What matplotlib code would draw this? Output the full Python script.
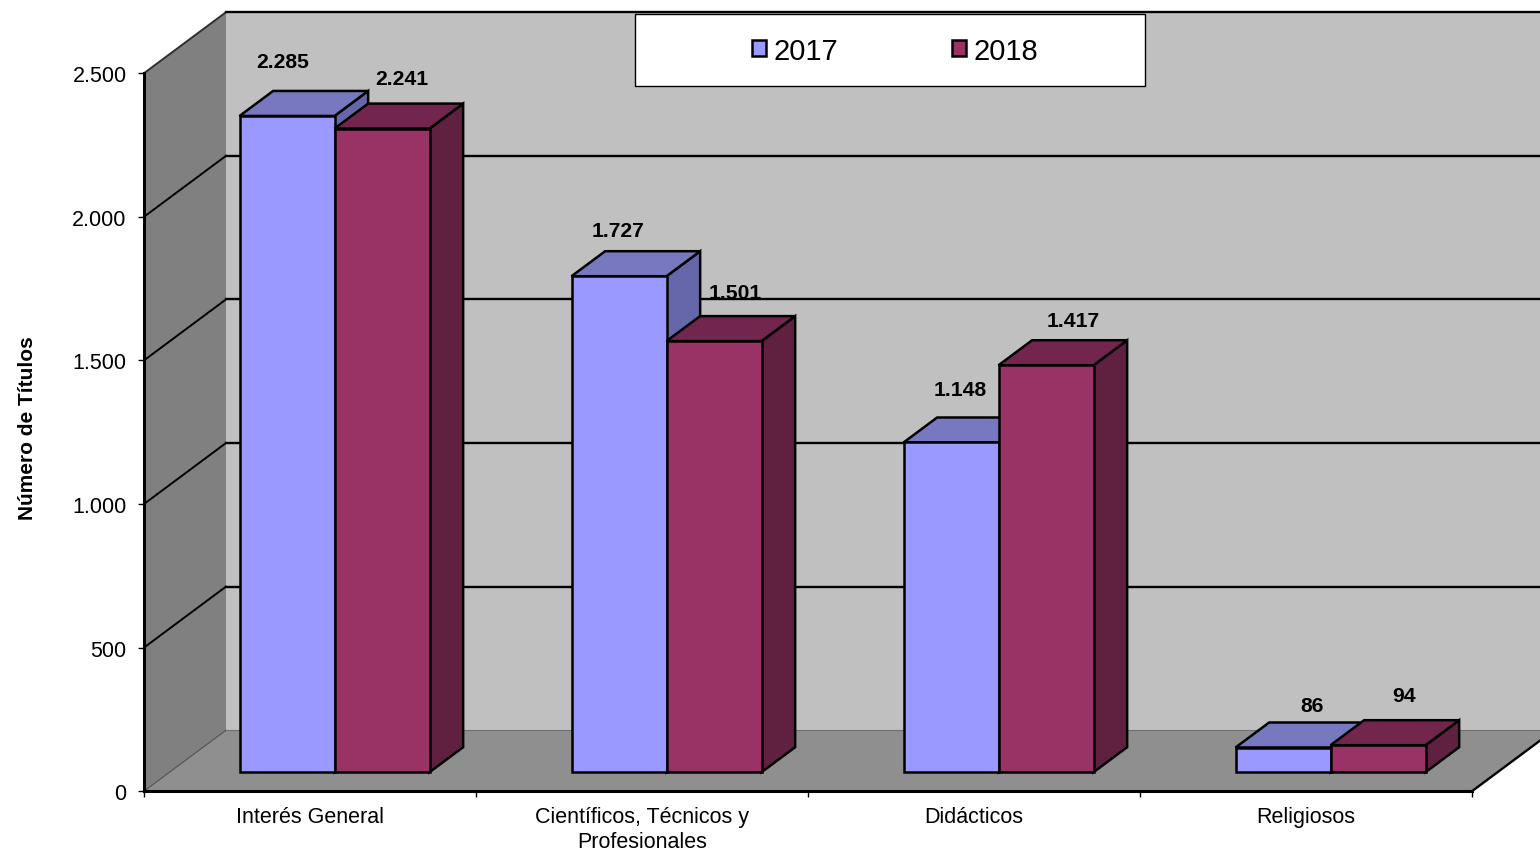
#!/usr/bin/env python3
# oblique "3D" column chart, drawn on normal 2D axes
import matplotlib
matplotlib.use("Agg")
import matplotlib.pyplot as plt
from matplotlib.patches import Polygon, Patch, Rectangle

plt.rcParams['font.family'] = ['Liberation Sans', 'DejaVu Sans']

#data
categories = ["Interés General", "Científicos, Técnicos y\nProfesionales", "Didácticos", "Religiosos"]
years = ["2017", "2018"]
values_2017 = [2285, 1727, 1148, 86]
values_2018 = [2241, 1501, 1417, 94]
value_ticks = [0, 500, 1000, 1500, 2000, 2500]
value_tick_labels = ["0", "500", "1.000", "1.500", "2.000", "2.500"]

#label shifts from the top centre of each bar, in pixels (x, y up)
shift_2017 = [(-4, 54), (-1, 46), (9, 53), (29, 42)]
shift_2018 = [(20, 50), (21, 49), (27, 45), (26, 50)]

#colours: front, top, side
colors_2017 = ("#9999FF", "#7878C0", "#6666AA")
colors_2018 = ("#993366", "#73264D", "#60203F")

W, H = 1540, 853
PX_X = 332.0         # pixels per category
PX_Y = 718.0 / 2500  # pixels per title

#depth of the whole chart box in data units
DX = 82 / PX_X
DY = 61 / PX_Y

BAR_W = 95 / PX_X
BAR_GAP = 70 / PX_X
BAR_D0 = 19 / 61     # where the bars start in the depth
BAR_D1 = 44 / 61     # where they end

fig = plt.figure(figsize=(W / 100, H / 100), dpi=100)
ax = fig.add_axes([144 / W, 1 - 792.2 / H, 1328 / W, 718 / H])
ax.set_xlim(0, 4)
ax.set_ylim(0, 2500)
ax.patch.set_visible(False)


def proj(x, y, d):
    return (x + d * DX, y + d * DY)


def poly(pts, fc, ec="none", lw=0, z=1):
    ax.add_patch(Polygon(pts, closed=True, facecolor=fc, edgecolor=ec, linewidth=lw,
                         joinstyle="miter", clip_on=False, zorder=z))


#walls and floor
poly([proj(0, 0, 1), proj(4, 0, 1), proj(4, 2500, 1), proj(0, 2500, 1)], "#C0C0C0")
poly([proj(0, 0, 0), proj(0, 0, 1), proj(0, 2500, 1), proj(0, 2500, 0)], "#808080")
poly([proj(0, 0, 0), proj(4, 0, 0), proj(4, 0, 1), proj(0, 0, 1)], "#8F8F8F")

#grid lines on the back and left wall
for v in value_ticks[1:]:
    a = proj(0, v, 0)
    b = proj(0, v, 1)
    c = proj(4, v, 1)
    color = "#303030" if v == 2500 else "black"
    ax.plot([a[0], b[0]], [a[1], b[1]], color=color, lw=1.4, clip_on=False, zorder=2)
    ax.plot([b[0], c[0]], [b[1], c[1]], color="black", lw=1.7, clip_on=False, zorder=2)

#thin edges of the floor
a, b, c = proj(0, 0, 0), proj(0, 0, 1), proj(4, 0, 1)
ax.plot([a[0], b[0]], [a[1], b[1]], color="#505050", lw=0.8, clip_on=False, zorder=2)
ax.plot([b[0], c[0]], [b[1], c[1]], color="#707070", lw=0.8, clip_on=False, zorder=2)
e = proj(4, 0, 0)
ax.plot([e[0], c[0]], [e[1], c[1]], color="black", lw=1.7, clip_on=False, zorder=2)

#bars
series = [(values_2017, colors_2017, shift_2017), (values_2018, colors_2018, shift_2018)]
for i in range(len(categories)):
    for j, (vals, cols, shifts) in enumerate(series):
        v = vals[i]
        x0 = i + BAR_GAP + j * BAR_W
        x1 = x0 + BAR_W
        poly([proj(x1, 0, BAR_D0), proj(x1, 0, BAR_D1), proj(x1, v, BAR_D1), proj(x1, v, BAR_D0)],
             cols[2], "black", 1.8, 3)
        poly([proj(x0, v, BAR_D0), proj(x1, v, BAR_D0), proj(x1, v, BAR_D1), proj(x0, v, BAR_D1)],
             cols[1], "black", 1.8, 3)
        poly([proj(x0, 0, BAR_D0), proj(x1, 0, BAR_D0), proj(x1, v, BAR_D0), proj(x0, v, BAR_D0)],
             cols[0], "black", 1.8, 3)
        label = f"{v:,}".replace(",", ".")
        dx, dy = shifts[i]
        ax.annotate(label, xy=proj((x0 + x1) / 2, v, BAR_D0), xytext=(dx, dy),
                    textcoords="offset pixels", ha="center", va="center",
                    fontsize=15.2, fontweight="bold", color="black",
                    annotation_clip=False, zorder=4)

#axes
for side in ["top", "right"]:
    ax.spines[side].set_visible(False)
for side in ["left", "bottom"]:
    ax.spines[side].set_linewidth(2.2)
    ax.spines[side].set_zorder(5)

ax.set_yticks(value_ticks)
ax.set_yticklabels(value_tick_labels, fontsize=15.5)
ax.tick_params(axis="y", length=4.5, width=1, pad=8)
ax.set_xticks([i + 0.5 for i in range(len(categories))])
ax.set_xticklabels(categories, fontsize=15.5, linespacing=1.25)
ax.tick_params(axis="x", which="major", length=0, pad=10.5)
ax.set_xticks(range(len(categories) + 1), minor=True)
ax.tick_params(axis="x", which="minor", length=4, width=1)
ax.set_ylabel("Número de Títulos", fontsize=15, fontweight="bold")
ax.yaxis.set_label_coords((37 - 144) / 1328, (792 - 428) / 718)

#legend box
fig.add_artist(Rectangle((635 / W, 1 - 86.5 / H), 510 / W, 72 / H, transform=fig.transFigure,
                         facecolor="white", edgecolor="black", linewidth=1, zorder=6))
handles = [Patch(facecolor=colors_2017[0], edgecolor="black", linewidth=1.8),
           Patch(facecolor=colors_2018[0], edgecolor="black", linewidth=1.8)]
leg = fig.legend(handles, years, loc="center", bbox_to_anchor=(895 / W, 1 - 51.5 / H), ncol=2, frameon=False,
                 fontsize=21, handlelength=0.5, handleheight=0.5, handletextpad=0.25,
                 columnspacing=3.9, borderpad=0, borderaxespad=0)
leg.set_zorder(7)

fig.savefig("out.png", dpi=100)
